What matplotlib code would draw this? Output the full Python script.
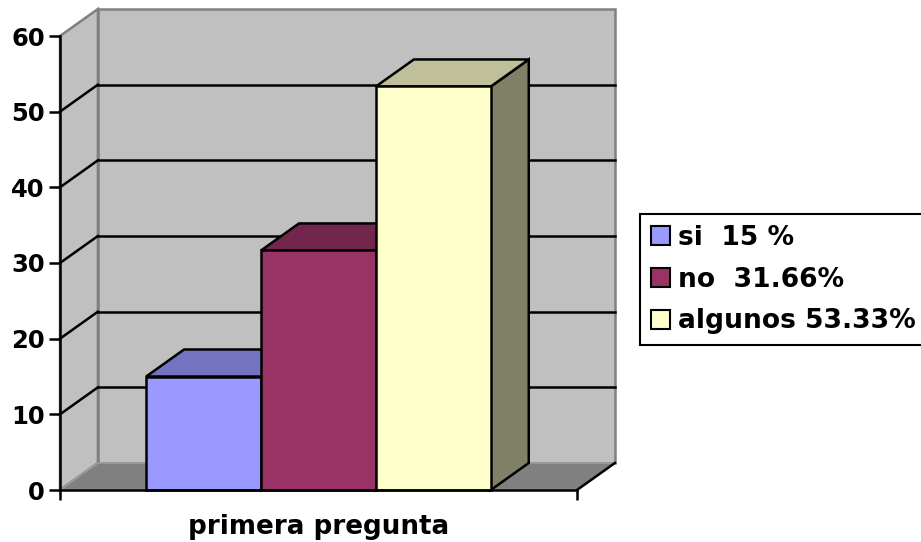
import matplotlib
matplotlib.use("Agg")
import matplotlib.pyplot as plt
from matplotlib.patches import Polygon, Rectangle, Patch

# Survey answers (percent) for the first question
category = "primera pregunta"
series_names = ["si  15 %", "no  31.66%", "algunos 53.33%"]
values = [15, 31.66, 53.33]
y_ticks = [0, 10, 20, 30, 40, 50, 60]

front_colors = ["#9999ff", "#993366", "#ffffcc"]

# 3-D look: depth offset of walls and bars, in data units
DX, DY = 0.33, 3.57
X_MAX, Y_MAX = 4.5, 60
GAP = 0.75


def shade(hex_color, f):
    r, g, b = matplotlib.colors.to_rgb(hex_color)
    return (r * f, g * f, b * f)


plt.rcParams["font.family"] = ["DejaVu Sans"]
plt.rcParams["font.weight"] = "bold"

fig = plt.figure(figsize=(9.21, 5.42), dpi=100)
W, H = 921, 542
ax = fig.add_axes([60 / W, (H - 490) / H, 517 / W, 454 / H])
ax.set_xlim(0, X_MAX)
ax.set_ylim(0, Y_MAX)
ax.patch.set_visible(False)

wall_c = "#c0c0c0"
edge_grey = "#808080"
lw = 1.8

# back wall, side wall, floor
ax.add_patch(Polygon([(DX, DY), (X_MAX + DX, DY), (X_MAX + DX, Y_MAX + DY), (DX, Y_MAX + DY)],
                     closed=True, facecolor=wall_c, edgecolor=edge_grey, lw=lw, clip_on=False, zorder=1))
ax.add_patch(Polygon([(0, 0), (DX, DY), (DX, Y_MAX + DY), (0, Y_MAX)],
                     closed=True, facecolor=wall_c, edgecolor=edge_grey, lw=lw, clip_on=False, zorder=1))
ax.add_patch(Polygon([(0, 0), (X_MAX, 0), (X_MAX + DX, DY), (DX, DY)],
                     closed=True, facecolor="#808080", edgecolor="#a0a0a0", lw=1.0, clip_on=False, zorder=1))
ax.plot([X_MAX, X_MAX + DX], [0, DY], color="black", lw=lw, clip_on=False, zorder=2)

# gridlines on both walls
for v in y_ticks[1:-1]:
    ax.plot([0, DX], [v, v + DY], color="black", lw=lw, clip_on=False, zorder=2)
    ax.plot([DX, X_MAX + DX], [v + DY, v + DY], color="black", lw=lw, clip_on=False, zorder=2)

# bars, drawn left to right so each front face hides the previous side
for i, (v, c) in enumerate(zip(values, front_colors)):
    x0 = GAP + i
    z = 3 + i
    ax.add_patch(Polygon([(x0 + 1, 0), (x0 + 1 + DX, DY), (x0 + 1 + DX, v + DY), (x0 + 1, v)],
                         closed=True, facecolor=shade(c, 0.5), edgecolor="black", lw=lw,
                         clip_on=False, zorder=z))
    ax.add_patch(Polygon([(x0, v), (x0 + 1, v), (x0 + 1 + DX, v + DY), (x0 + DX, v + DY)],
                         closed=True, facecolor=shade(c, 0.75), edgecolor="black", lw=lw,
                         clip_on=False, zorder=z))
    ax.add_patch(Rectangle((x0, 0), 1, v, facecolor=c, edgecolor="black", lw=lw,
                           clip_on=False, zorder=z + 0.5))

# axes
for s in ["top", "right"]:
    ax.spines[s].set_visible(False)
for s in ["left", "bottom"]:
    ax.spines[s].set_color("black")
    ax.spines[s].set_linewidth(lw)
    ax.spines[s].set_zorder(10)
ax.set_yticks(y_ticks)
ax.set_yticklabels([str(t) for t in y_ticks], fontsize=17.5, fontweight="bold")
ax.tick_params(axis="y", direction="out", length=8, width=lw, pad=3)
ax.set_xticks([0, X_MAX])
ax.set_xticklabels(["", ""])
ax.tick_params(axis="x", direction="out", length=7, width=lw)
ax.set_xlabel(category, fontsize=18.8, fontweight="bold", labelpad=7)

handles = [Patch(facecolor=c, edgecolor="black", lw=1.5) for c in front_colors]
leg = fig.legend(handles, series_names, loc="upper left",
                 bbox_to_anchor=(640 / W, 1 - 214 / H), prop={"size": 19.1, "weight": "bold"},
                 frameon=True, fancybox=False, edgecolor="black", framealpha=1,
                 handlelength=0.72, handleheight=0.72, handletextpad=0.3,
                 labelspacing=0.6, borderpad=0.4, borderaxespad=0)
leg.get_frame().set_linewidth(1.5)

fig.savefig("out.png", dpi=100, facecolor="white")
